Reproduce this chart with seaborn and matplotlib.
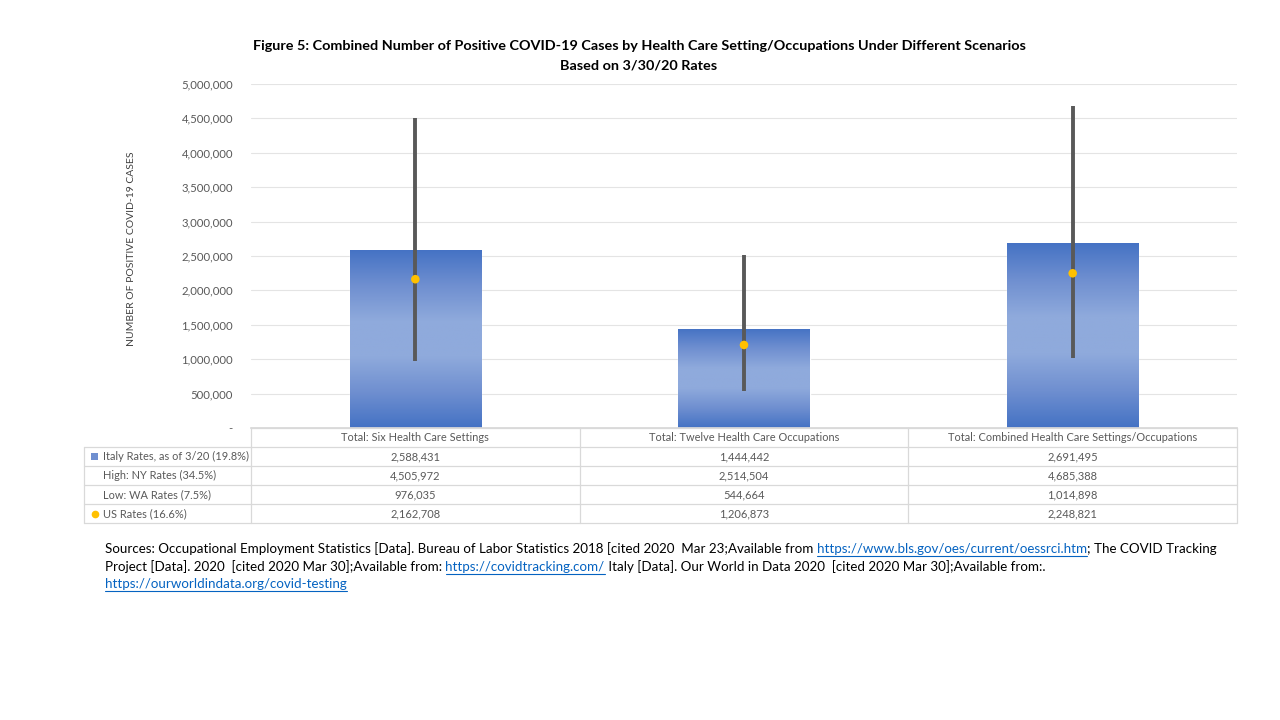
import numpy as np
import pandas as pd
import seaborn as sns
import matplotlib
matplotlib.use("Agg")
import matplotlib.pyplot as plt
from matplotlib.colors import LinearSegmentedColormap
from matplotlib.ticker import FuncFormatter

categories = ["Total: Six Health Care Settings",
              "Total: Twelve Health Care Occupations",
              "Total: Combined Health Care Settings/Occupations"]
italy = [2588431, 1444442, 2691495]
high = [4505972, 2514504, 4685388]
low = [976035, 544664, 1014898]
us = [2162708, 1206873, 2248821]
row_labels = ["Italy Rates, as of 3/20 (19.8%)", "High: NY Rates (34.5%)",
              "Low: WA Rates (7.5%)", "US Rates (16.6%)"]
y_ticks = [0, 500000, 1000000, 1500000, 2000000, 2500000,
           3000000, 3500000, 4000000, 4500000, 5000000]

sns.set_theme(style="white")
plt.rcParams['font.family'] = ['Lato', 'DejaVu Sans']

W, H = 1280, 720
fig = plt.figure(figsize=(12.8, 7.2), dpi=100)


def fx(px):
    return px / W


def fy(py):
    return 1 - py / H


ax_l, ax_r, ax_t, ax_b = 251, 1237, 84, 428
ax = fig.add_axes([fx(ax_l), fy(ax_b), fx(ax_r - ax_l), (ax_b - ax_t) / H])

df = pd.DataFrame({"category": categories, "italy": italy})
sns.barplot(data=df, x="category", y="italy", width=0.4, color="#4472C4", ax=ax)

# gradient fill for the bars, clipped to each bar
grad = LinearSegmentedColormap.from_list(
    "g", ["#4472C4", "#6F8FD0", "#8FAADC", "#8FAADC", "#6F8FD0", "#4472C4"])
gimg = np.linspace(0, 1, 256).reshape(-1, 1)
for p in ax.patches:
    x0, y0 = p.get_x(), p.get_y()
    w, h = p.get_width(), p.get_height()
    im = ax.imshow(gimg, cmap=grad, aspect="auto", extent=[x0, x0 + w, y0, y0 + h],
                   origin="lower", zorder=2)
    im.set_clip_path(p)
    p.set_zorder(1)

xs = np.arange(len(categories))
ax.vlines(xs, low, high, color="#595959", linewidth=2.8, zorder=3)
ax.scatter(xs, us, s=38, color="#FFC000", zorder=4, edgecolors="none")

ax.set_xlim(-0.5, 2.5)
ax.set_ylim(0, 5000000)
ax.set_yticks(y_ticks)
ax.yaxis.set_major_formatter(FuncFormatter(lambda v, _: "-" if v == 0 else f"{int(v):,}"))
ax.tick_params(axis="y", labelsize=8.2, labelcolor="#595959", length=0, pad=13)
ax.set_xticks([])
ax.set_xlabel("")
ax.set_ylabel("")
ax.grid(axis="y", color="#E4E4E4", linewidth=0.8)
ax.set_axisbelow(True)
for s in ["left", "right", "top"]:
    ax.spines[s].set_visible(False)
ax.spines["bottom"].set_color("#D9D9D9")

fig.text(fx(132), fy(249), "NUMBER OF POSITIVE COVID-19 CASES", rotation=90,
         ha="center", va="center", fontsize=7.5, color="#404040")

fig.text(fx(639), fy(46), "Figure 5: Combined Number of Positive COVID-19 Cases by Health Care Setting/Occupations Under Different Scenarios",
         ha="center", va="center", fontsize=10.4, fontweight="bold", color="black")
fig.text(fx(639), fy(66), "Based on 3/30/20 Rates",
         ha="center", va="center", fontsize=10.4, fontweight="bold", color="black")

# data table below the axes
line_c = "#D9D9D9"
rows_y = [428, 447, 466, 485, 504, 523]
tab_l = 84
col_w = (ax_r - ax_l) / 3
col_x = [ax_l + i * col_w for i in range(4)]


def hline(x0, x1, y):
    fig.add_artist(plt.Line2D([fx(x0), fx(x1)], [fy(y), fy(y)], color=line_c, lw=0.9))


def vline(x, y0, y1):
    fig.add_artist(plt.Line2D([fx(x), fx(x)], [fy(y0), fy(y1)], color=line_c, lw=0.9))


hline(ax_l, ax_r, rows_y[0])
for y in rows_y[1:]:
    hline(tab_l, ax_r, y)
vline(tab_l, rows_y[1], rows_y[-1])
for x in col_x:
    vline(x, rows_y[0], rows_y[-1])

for i, c in enumerate(categories):
    fig.text(fx((col_x[i] + col_x[i + 1]) / 2), fy((rows_y[0] + rows_y[1]) / 2), c,
             ha="center", va="center", fontsize=7.9, color="#595959")

series = [italy, high, low, us]
for r, vals in enumerate(series):
    yc = (rows_y[r + 1] + rows_y[r + 2]) / 2
    fig.text(fx(103), fy(yc), row_labels[r], ha="left", va="center", fontsize=7.9, color="#595959")
    for i, v in enumerate(vals):
        fig.text(fx((col_x[i] + col_x[i + 1]) / 2), fy(yc), f"{v:,}",
                 ha="center", va="center", fontsize=8, color="#595959")

# legend keys inside the table
fig.add_artist(plt.Rectangle((fx(91), fy(460)), fx(7), 7 / H, color="#6F8FD0", lw=0))
fig.add_artist(plt.Line2D([fx(95)], [fy(514)], marker="o", markersize=4.5,
                          color="#FFC000", lw=0))

# sources text, with underlined links
renderer = fig.canvas.get_renderer()
src_lines = [
    [("Sources: Occupational Employment Statistics [Data]. Bureau of Labor Statistics 2018 [cited 2020  Mar 23;Available from ", False),
     ("https://www.bls.gov/oes/current/oessrci.htm", True),
     ("; The COVID Tracking", False)],
    [("Project [Data]. 2020  [cited 2020 Mar 30];Available from: ", False),
     ("https://covidtracking.com/", True),
     (" Italy [Data]. Our World in Data 2020  [cited 2020 Mar 30];Available from:.", False)],
    [("https://ourworldindata.org/covid-testing", True)],
]
src_y = [549, 567, 584]
for segs, y in zip(src_lines, src_y):
    x = 105
    for txt, link in segs:
        t = fig.text(fx(x), fy(y), txt, ha="left", va="center", fontsize=9.6,
                     color="#0563C1" if link else "black")
        bb = t.get_window_extent(renderer=renderer)
        if link:
            fig.add_artist(plt.Line2D([fx(x), fx(x + bb.width)], [fy(y + 7), fy(y + 7)],
                                      color="#0563C1", lw=0.8))
        x += bb.width

fig.savefig("out.png", dpi=100)
